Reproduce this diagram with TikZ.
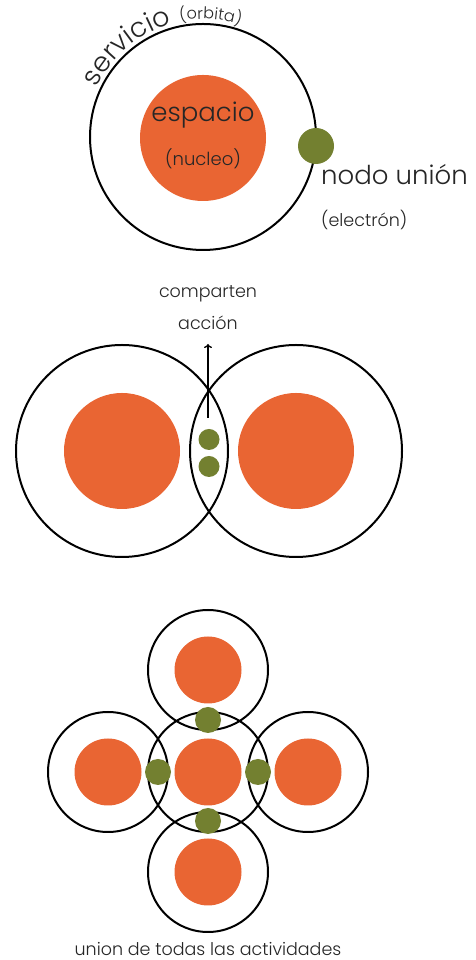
\documentclass[tikz,border=0pt]{standalone}
\usepackage{fontspec}
\setmainfont{Poppins}[UprightFont={* Light}]
\usetikzlibrary{decorations.text,arrows.meta,calc}
\definecolor{nucleo}{RGB}{233,101,51}
\definecolor{electron}{RGB}{115,128,48}
\tikzset{
  orbit/.style={circle,draw=black,line width=2pt,fill=none,inner sep=0pt},
  core/.style={circle,fill=nucleo,draw=none,inner sep=0pt},
  elec/.style={circle,fill=electron,draw=none,inner sep=0pt},
  lbl/.style={inner sep=0pt,text=black!85},
}
\begin{document}
\begin{tikzpicture}[x=1pt,y=1pt]
\useasboundingbox[fill=white] (0,0) rectangle (475,960);
% ---------- top ----------
\node[orbit,minimum size=226pt] (o1) at (203,823) {};
\node[core,minimum size=126pt] (c1) at (203,822) {};
\node[elec,minimum size=36pt] (e1) at (316,814) {};
\node[lbl,font=\fontsize{26}{30}\selectfont] (esp) at (203,845) {espacio};
\node[lbl,font=\fontsize{18}{22}\selectfont] (nuc) at (203,801) {(nucleo)};
\node[lbl,anchor=west,font=\fontsize{26}{30}\selectfont] (nodo) at (321,785) {nodo unión};
\node[lbl,anchor=west,font=\fontsize{17.5}{21}\selectfont] (elc) at (321,740) {(electrón)};
\coordinate (oc) at (203,823);
\path[decorate,decoration={text along path,text align=left,
  text={|\fontsize{27}{30}\selectfont\color{black!85}|servicio}}]
  ($(oc)+(155:117)$) arc[start angle=155,end angle=60,radius=117];
\path[decorate,decoration={text along path,text align=left,
  text={|\fontsize{16}{19}\selectfont\color{black!85}|(orbita)}}]
  ($(oc)+(101:118)$) arc[start angle=101,end angle=40,radius=118];
% ---------- middle ----------
\node[orbit,minimum size=212pt] (o2a) at (122,509) {};
\node[orbit,minimum size=212pt] (o2b) at (296,509) {};
\node[core,minimum size=116pt] (c2a) at (122,509) {};
\node[core,minimum size=116pt] (c2b) at (296,509) {};
\node[elec,minimum size=21pt] (e2a) at (209,520.5) {};
\node[elec,minimum size=21pt] (e2b) at (209,493.5) {};
\coordinate (arS) at (208,542);
\coordinate (arE) at (208,616);
\draw[line width=1.3pt,-{To[length=4pt,width=8pt]}] (arS) -- (arE);
\node[lbl,font=\fontsize{17.5}{21}\selectfont] (comp) at (208,666) {comparten};
\node[lbl,font=\fontsize{17.5}{21}\selectfont] (acc) at (208,637) {acción};
% ---------- bottom ----------
\foreach \n/\x/\y in {T/208/290,L/108/188,C/208/188,R/308/188,B/208/88}{
  \node[orbit,minimum size=120pt] (o3\n) at (\x,\y) {};
}
\foreach \n/\x/\y in {T/208/290,L/108/188,C/208/188,R/308/188,B/208/88}{
  \node[core,minimum size=67pt] (c3\n) at (\x,\y) {};
}
\node[elec,minimum size=26pt] (e3T) at (208,240) {};
\node[elec,minimum size=26pt] (e3L) at (158,188) {};
\node[elec,minimum size=26pt] (e3R) at (258,188) {};
\node[elec,minimum size=26pt] (e3B) at (208,139) {};
\node[lbl,font=\fontsize{17.5}{21}\selectfont] (union) at (208,11) {union de todas las actividades};
\end{tikzpicture}
\end{document}
